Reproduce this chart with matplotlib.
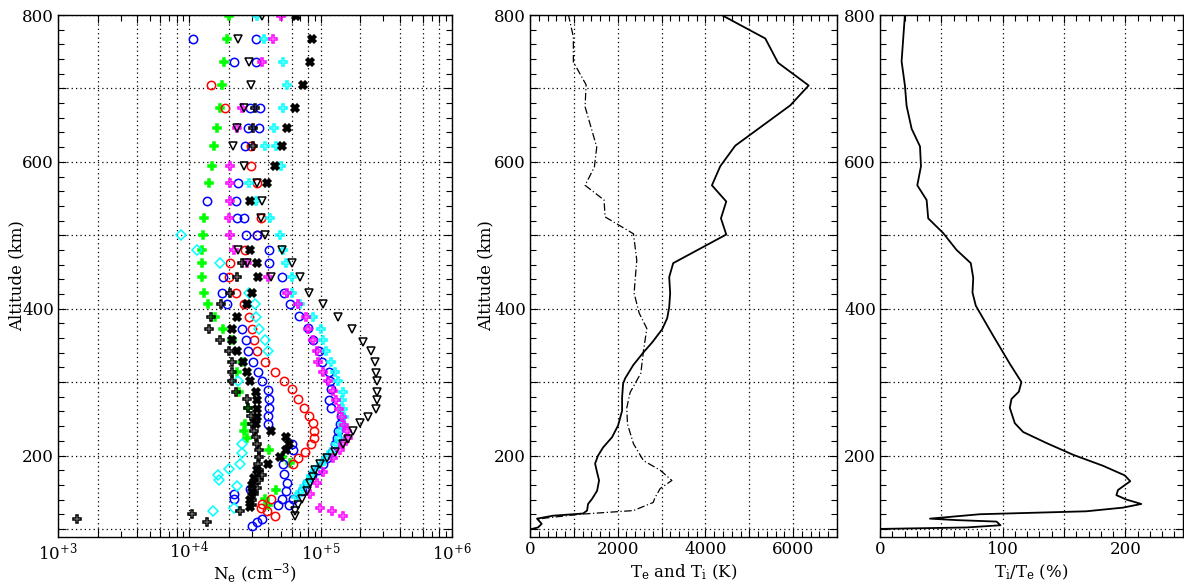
import numpy as np
import matplotlib
matplotlib.use('Agg')
import matplotlib.pyplot as plt
from matplotlib.ticker import MultipleLocator, LogLocator, FuncFormatter

plt.rcParams['font.family'] = ['DejaVu Serif']
plt.rcParams['mathtext.fontset'] = 'dejavuserif'
plt.rcParams['font.size'] = 12

# ---- left panel: electron density profiles (altitude km, Ne cm-3)
GREEN_ALT = [798, 767, 736, 705, 674, 646, 621, 595, 571, 523, 501, 480, 462, 443, 422, 406, 388,
             372, 357, 328, 314, 287, 265, 243, 234, 224, 207, 198, 190, 153, 141, 132]
GREEN_NE = [2.0e4, 1.95e4, 1.85e4, 1.77e4, 1.7e4, 1.63e4, 1.53e4, 1.48e4, 1.42e4, 1.3e4, 1.27e4,
            1.25e4, 1.25e4, 1.25e4, 1.3e4, 1.39e4, 1.57e4, 1.8e4, 2.1e4, 2.5e4, 2.3e4, 2.4e4,
            2.8e4, 2.65e4, 2.6e4, 2.75e4, 4.05e4, 5.1e4, 5.8e4, 4.6e4, 3.8e4, 4.0e4]

RED_ALT = [705, 674, 621, 595, 571, 523, 501, 480, 462, 443, 422, 406, 388, 372, 357, 342, 328,
           314, 302, 290, 277, 265, 254, 244, 234, 224, 215, 205, 197, 189, 141, 134, 129, 125, 118]
RED_NE = [1.46e4, 1.87e4, 2.95e4, 2.95e4, 3.3e4, 3.5e4, 3.3e4, 2.65e4, 2.05e4, 2.0e4, 2.25e4,
          2.6e4, 2.85e4, 3.0e4, 3.1e4, 3.3e4, 3.75e4, 4.5e4, 5.25e4, 6.0e4, 6.7e4, 7.5e4, 8.1e4,
          8.7e4, 8.9e4, 8.9e4, 8.5e4, 7.6e4, 6.7e4, 6.2e4, 4.2e4, 3.6e4, 3.5e4, 3.9e4, 4.5e4]

BLUE1_ALT = [767, 736, 674, 646, 621, 571, 546, 523, 501, 480, 462, 443, 422, 406, 390, 373, 357,
             342, 328, 314, 302, 290, 276, 265, 254, 243, 233, 224, 215, 205, 197, 189, 180, 173,
             162, 152, 141, 132]
BLUE1_NE = [3.2e4, 3.2e4, 3.45e4, 3.4e4, 2.65e4, 2.35e4, 2.25e4, 2.3e4, 3.3e4, 4.05e4, 4.05e4,
            5.1e4, 5.3e4, 5.8e4, 6.8e4, 8.0e4, 8.8e4, 9.7e4, 1.02e5, 1.15e5, 1.17e5, 1.2e5,
            1.15e5, 1.2e5, 1.43e5, 1.4e5, 1.35e5, 1.33e5, 1.29e5, 1.22e5, 1.12e5, 1.05e5, 9.5e4,
            8.6e4, 7.9e4, 7.2e4, 6.2e4, 5.7e4]

BLUE2_ALT = [767, 736, 674, 646, 546, 523, 501, 443, 422, 406, 372, 357, 342, 328, 314, 301, 289,
             277, 265, 254, 243, 216, 207, 189, 175, 163, 152, 141, 132, 155, 148, 141, 114, 109, 104]
BLUE2_NE = [1.07e4, 2.2e4, 2.9e4, 2.8e4, 1.37e4, 2.6e4, 2.7e4, 1.8e4, 1.77e4, 1.95e4, 2.5e4,
            2.7e4, 2.8e4, 3.05e4, 3.35e4, 3.6e4, 4.0e4, 4.05e4, 4.05e4, 4.0e4, 4.0e4, 6.1e4,
            6.2e4, 5.2e4, 5.3e4, 5.5e4, 5.4e4, 5.1e4, 4.7e4, 2.9e4, 2.2e4, 2.2e4, 3.6e4, 3.3e4, 3.0e4]

CYAN_D_ALT = [501, 480, 462, 422, 406, 388, 372, 357, 342, 301, 216, 204, 189, 181, 173, 166, 159,
              129, 124]
CYAN_D_NE = [8.7e3, 1.15e4, 1.7e4, 2.85e4, 3.15e4, 3.2e4, 3.4e4, 3.8e4, 4.0e4, 2.35e4, 2.5e4,
             2.5e4, 2.45e4, 2.0e4, 1.65e4, 1.67e4, 2.3e4, 2.2e4, 1.52e4]

CYAN_P_ALT = [798, 767, 736, 705, 674, 646, 621, 621, 595, 571, 546, 523, 501, 480, 462, 443, 422,
              406, 388, 372, 357, 342, 328, 314, 301, 287, 275, 264, 253, 243, 233, 224, 215, 205,
              197, 189, 180, 172, 165, 158, 150, 143]
CYAN_P_NE = [3.3e4, 3.7e4, 5.2e4, 5.5e4, 5.2e4, 4.4e4, 3.75e4, 4.6e4, 5.0e4, 2.85e4, 3.2e4, 4.1e4,
             4.9e4, 5.2e4, 5.4e4, 6.0e4, 6.1e4, 6.9e4, 8.8e4, 1.0e5, 1.05e5, 1.1e5, 1.2e5, 1.28e5,
             1.35e5, 1.48e5, 1.45e5, 1.48e5, 1.5e5, 1.45e5, 1.4e5, 1.37e5, 1.3e5, 1.2e5, 1.1e5,
             1.0e5, 9.0e4, 8.5e4, 8.0e4, 7.5e4, 7.0e4, 6.5e4]

MAGENTA_ALT = [798, 767, 736, 674, 646, 595, 571, 546, 523, 501, 480, 462, 443, 422, 406, 388, 372,
               357, 342, 328, 314, 301, 288, 275, 264, 253, 241, 234, 224, 215, 207, 197, 177, 162,
               148, 129, 124, 118]
MAGENTA_NE = [5.0e4, 4.3e4, 3.6e4, 2.5e4, 2.3e4, 2.05e4, 2.05e4, 2.05e4, 2.0e4, 2.05e4, 2.2e4,
              2.75e4, 4.0e4, 5.5e4, 6.7e4, 7.7e4, 8.0e4, 8.8e4, 9.4e4, 9.6e4, 1.04e5, 1.13e5,
              1.25e5, 1.3e5, 1.38e5, 1.45e5, 1.5e5, 1.6e5, 1.62e5, 1.48e5, 1.4e5, 1.25e5, 1.04e5,
              9.4e4, 8.3e4, 9.9e4, 1.23e5, 1.48e5]

BLACK_X_ALT = [798, 767, 736, 705, 674, 646, 621, 595, 571, 546, 480, 462, 443, 422, 406, 388, 372,
               357, 342, 328, 314, 301, 287, 275, 264, 253, 243, 234, 225, 216, 207, 198, 189, 180,
               170, 160, 150, 140, 130]
BLACK_X_NE = [6.5e4, 8.6e4, 8.3e4, 7.3e4, 6.4e4, 5.5e4, 5.1e4, 4.5e4, 3.9e4, 2.9e4, 2.9e4, 3.3e4,
              3.35e4, 3.0e4, 2.75e4, 2.3e4, 2.1e4, 2.1e4, 2.3e4, 2.55e4, 2.75e4, 2.9e4, 3.2e4,
              3.25e4, 3.3e4, 3.3e4, 3.2e4, 4.2e4, 5.4e4, 5.7e4, 5.4e4, 4.9e4, 4.0e4, 3.3e4, 3.1e4,
              3.0e4, 3.0e4, 2.9e4, 2.9e4]

TRI_ALT = [798, 767, 736, 705, 674, 646, 621, 595, 571, 546, 523, 501, 480, 462, 443, 422, 406, 388,
           372, 355, 342, 327, 313, 301, 287, 275, 264, 253, 244, 233, 223, 215, 205, 197, 189, 180,
           171, 162, 152, 141, 133, 125, 118, 480, 462, 443]
TRI_NE = [3.6e4, 2.35e4, 2.85e4, 2.95e4, 2.6e4, 2.3e4, 2.15e4, 2.6e4, 3.3e4, 3.6e4, 3.5e4, 3.8e4,
          5.1e4, 6.1e4, 7.0e4, 8.2e4, 1.04e5, 1.36e5, 1.73e5, 2.1e5, 2.42e5, 2.6e5, 2.64e5, 2.69e5,
          2.69e5, 2.69e5, 2.64e5, 2.3e5, 2.0e5, 1.77e5, 1.62e5, 1.48e5, 1.29e5, 1.12e5, 9.9e4,
          9.1e4, 8.7e4, 8.3e4, 7.9e4, 7.2e4, 6.7e4, 6.4e4, 6.4e4, 2.35e4, 2.75e4, 4.2e4]

BLACK_P_ALT = [674, 646, 621, 462, 443, 422, 406, 388, 372, 357, 342, 328, 314, 301, 287, 277, 265,
               254, 243, 234, 225, 216, 207, 198, 189, 180, 173, 166, 156, 148, 139, 132, 125, 120,
               114, 109]
BLACK_P_NE = [3.15e4, 3.05e4, 3.05e4, 2.5e4, 2.3e4, 2.05e4, 1.75e4, 1.45e4, 1.42e4, 1.7e4, 2.0e4,
              2.1e4, 2.1e4, 2.1e4, 2.25e4, 2.75e4, 2.8e4, 2.95e4, 3.0e4, 3.1e4, 3.2e4, 3.3e4, 3.4e4,
              3.4e4, 3.35e4, 3.4e4, 3.6e4, 3.4e4, 3.3e4, 3.1e4, 3.0e4, 3.0e4, 2.45e4, 1.05e4,
              1.4e3, 1.37e4]

# ---- middle panel: Te (solid) and Ti (dash-dot), K
TE_ALT = [801, 768, 735, 704, 677, 650, 622, 594, 568, 546, 523, 501, 462, 443, 421, 402, 387, 372,
          354, 340, 323, 305, 298, 279, 261, 241, 225, 211, 200, 189, 177, 166, 152, 141, 134, 125,
          121, 118, 114, 107, 102, 100, 99]
TE = [4338, 5365, 5655, 6354, 5936, 5320, 4680, 4338, 4148, 4475, 4354, 4475, 3265, 3174, 3196,
      3174, 3128, 3014, 2785, 2580, 2352, 2169, 2123, 2100, 2100, 2009, 1872, 1667, 1553, 1484,
      1530, 1575, 1530, 1416, 1324, 1301, 1210, 525, 160, 267, 183, 46, 0]

TI_ALT = [801, 770, 736, 705, 675, 620, 593, 568, 548, 525, 502, 466, 439, 421, 394, 373, 343, 312,
          286, 265, 243, 216, 193, 180, 166, 155, 143, 136, 125, 120, 115, 113]
TI = [874, 989, 989, 1279, 1256, 1522, 1468, 1256, 1689, 1712, 2359, 2435, 2397, 2374, 2489, 2664,
      2588, 2527, 2283, 2207, 2222, 2359, 2588, 2968, 3235, 2968, 2854, 2808, 2359, 1142, 381, 152]

# ---- right panel: Ti/Te ratio (%)
RATIO_ALT = [800, 737, 704, 676, 645, 621, 594, 568, 548, 523, 503, 480, 462, 442, 422, 404, 363,
             325, 300, 287, 277, 265, 244, 232, 217, 201, 186, 173, 165, 153, 146, 140, 134, 129,
             124, 120, 114, 112, 110, 105, 102, 100]
RATIO = [20.3, 17.6, 20.3, 21.7, 25.8, 32.6, 33.4, 30.4, 38, 39.3, 51.5, 62.4, 74, 76, 75.4, 78.1,
         92.3, 105.8, 115.3, 113.2, 107.2, 105.8, 109.9, 116.7, 135.7, 157.4, 181.8, 199.4, 204,
         194, 192.7, 200.8, 213, 198, 168, 81.4, 40.7, 62.4, 95, 98.2, 70.5, 0]

ALT_LIM = (89, 800)


def label_every(step):
    return FuncFormatter(lambda v, p: '%d' % round(v) if abs(v / step - round(v / step)) < 1e-6 else '')


def style_axes(ax):
    ax.tick_params(which='both', direction='in', top=True, right=True, labelsize=12, pad=3)
    ax.tick_params(which='major', length=6, width=0.8)
    ax.tick_params(which='minor', length=4, width=0.8)
    ax.grid(True, which='major', linestyle=(0, (1, 2.5)), color='k', linewidth=0.9)
    for s in ax.spines.values():
        s.set_linewidth(1.0)


def alt_axis(ax, label_x=None):
    ax.set_ylim(*ALT_LIM)
    ax.yaxis.set_major_locator(MultipleLocator(100))
    ax.yaxis.set_minor_locator(MultipleLocator(20))
    ax.yaxis.set_major_formatter(label_every(200))
    if label_x is not None:
        ax.set_ylabel('Altitude (km)')
        ax.yaxis.set_label_coords(label_x, 0.5)


def plot_density(ax):
    kw = dict(linestyle='none', markersize=6, markeredgewidth=1.1)
    ax.plot(GREEN_NE, GREEN_ALT, marker='P', color='#00ff00', mfc='#00ff00', **kw)
    ax.plot(RED_NE, RED_ALT, marker='o', color='#ff0000', mfc='none', **kw)
    ax.plot(BLUE1_NE, BLUE1_ALT, marker='o', color='#0000ff', mfc='none', **kw)
    ax.plot(BLUE2_NE, BLUE2_ALT, marker='o', color='#0000ff', mfc='none', **kw)
    ax.plot(CYAN_D_NE, CYAN_D_ALT, marker='D', color='#00ffff', mfc='none', markersize=5,
            linestyle='none', markeredgewidth=1.1)
    ax.plot(CYAN_P_NE, CYAN_P_ALT, marker='P', color='#00ffff', mfc='none', **kw)
    ax.plot(MAGENTA_NE, MAGENTA_ALT, marker='P', color='#ff00ff', mfc='none', **kw)
    ax.plot(BLACK_X_NE, BLACK_X_ALT, marker='X', color='k', mfc='k', **kw)
    ax.plot(TRI_NE, TRI_ALT, marker='v', color='k', mfc='none', **kw)
    ax.plot(BLACK_P_NE, BLACK_P_ALT, marker='P', color='k', mfc='none', **kw)

    ax.set_xscale('log')
    ax.set_xlim(1e3, 1e6)
    ax.xaxis.set_major_locator(LogLocator(base=10, subs=(1, 2, 4, 6, 8), numticks=30))
    ax.xaxis.set_minor_locator(LogLocator(base=10, subs=(3, 5, 7, 9), numticks=30))

    def fmt(v, p):
        e = np.log10(v)
        if abs(e - round(e)) < 1e-6:
            return r'10$^{+%d}$' % round(e)
        return ''
    ax.xaxis.set_major_formatter(FuncFormatter(fmt))
    ax.xaxis.set_minor_formatter(FuncFormatter(lambda v, p: ''))
    alt_axis(ax, label_x=(25 - 58) / 394.0)
    ax.set_xlabel(r'N$_\mathrm{e}$ (cm$^{-3}$)', labelpad=-1)
    style_axes(ax)


def plot_temps(ax):
    ax.plot(TE, TE_ALT, color='k', linewidth=1.3)
    ax.plot(TI, TI_ALT, color='k', linewidth=0.9, linestyle=(0, (6, 2, 1, 2)))
    ax.set_xlim(0, 7000)
    ax.xaxis.set_major_locator(MultipleLocator(1000))
    ax.xaxis.set_minor_locator(MultipleLocator(200))
    ax.xaxis.set_major_formatter(label_every(2000))
    alt_axis(ax, label_x=(494 - 530) / 307.0)
    ax.set_xlabel(r'T$_\mathrm{e}$ and T$_\mathrm{i}$ (K)', labelpad=3)
    style_axes(ax)


def plot_ratio(ax):
    ax.plot(RATIO, RATIO_ALT, color='k', linewidth=1.3)
    ax.set_xlim(0, 247)
    ax.xaxis.set_major_locator(MultipleLocator(50))
    ax.xaxis.set_minor_locator(MultipleLocator(10))
    ax.xaxis.set_major_formatter(label_every(100))
    alt_axis(ax)
    ax.set_xlabel(r'T$_\mathrm{i}$/T$_\mathrm{e}$ (%)', labelpad=3)
    style_axes(ax)


fig = plt.figure(figsize=(11.84, 5.85), dpi=100)
W, H = 1184.0, 585.0
bottom = (H - 537) / H
height = (537 - 15) / H
ax1 = fig.add_axes([58 / W, bottom, (452 - 58) / W, height])
ax2 = fig.add_axes([530 / W, bottom, (837 - 530) / W, height])
ax3 = fig.add_axes([880 / W, bottom, (1183 - 880) / W, height])

plot_density(ax1)
plot_temps(ax2)
plot_ratio(ax3)

fig.savefig('out.png', dpi=100)
plt.close(fig)
